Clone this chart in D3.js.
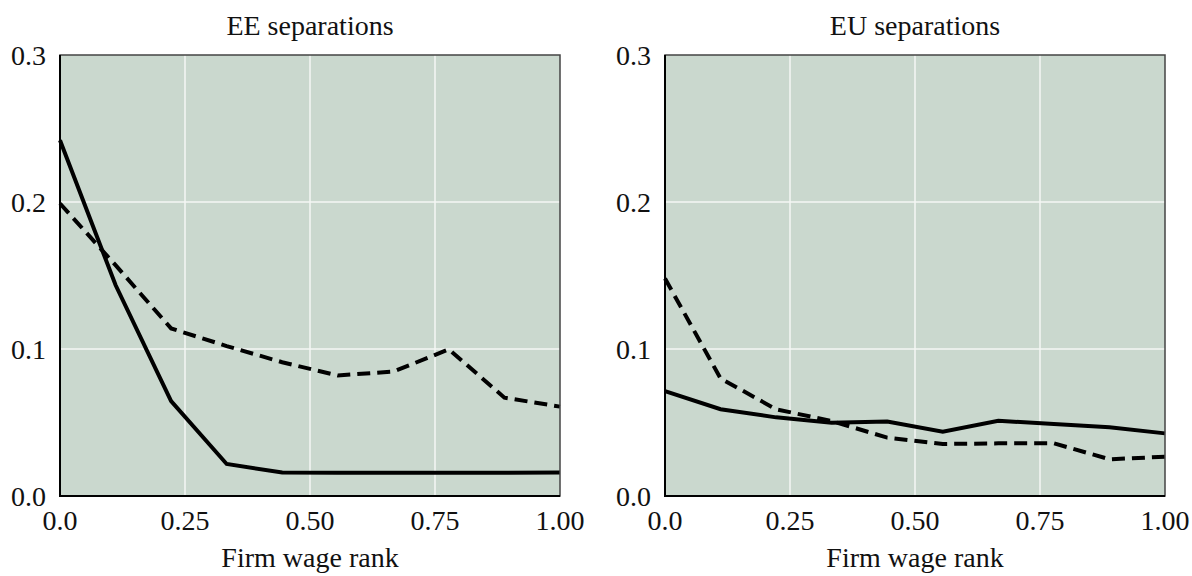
<!DOCTYPE html>
<html>
<head>
<meta charset="utf-8">
<script src="https://cdn.jsdelivr.net/npm/d3@7"></script>
<style>
  body { margin: 0; background: #fff; }
  text { font-family: "Liberation Serif", "DejaVu Serif", serif; fill: #111; }
</style>
</head>
<body>
<svg id="chart" width="1192" height="576"></svg>
<script>
var ranks = [0, 1/9, 2/9, 3/9, 4/9, 5/9, 6/9, 7/9, 8/9, 1];
var eeSolid = [0.242, 0.1435, 0.0646, 0.0218, 0.0160, 0.0158, 0.0158, 0.0158, 0.0158, 0.0160];
var eeDashed = [0.199, 0.157, 0.114, 0.102, 0.091, 0.082, 0.0846, 0.0998, 0.0669, 0.0608];
var euSolid = [0.0714, 0.059, 0.0535, 0.0499, 0.0506, 0.0438, 0.0512, 0.049, 0.0467, 0.0426];
var euDashed = [0.148, 0.080, 0.059, 0.051, 0.0397, 0.0354, 0.0358, 0.0358, 0.025, 0.0267];
var xTicks = [0, 0.25, 0.5, 0.75, 1];
var xTickLabels = ["0.0", "0.25", "0.50", "0.75", "1.00"];
var yTicks = [0, 0.1, 0.2, 0.3];
var yTickLabels = ["0.0", "0.1", "0.2", "0.3"];
var panelTitles = ["EE separations", "EU separations"];

var panels = [
  { title: panelTitles[0], left: 60, solid: eeSolid, dashed: eeDashed },
  { title: panelTitles[1], left: 665, solid: euSolid, dashed: euDashed }
];

var props = {
  top: 55,
  bottom: 496,
  width: 500,
  bg: "#cad8ce",
  fontSize: 28,
  lineWidth: 4
};

var svg = d3.select("#chart");

panels.forEach(function(p) {
  var x = d3.scaleLinear().domain([0, 1]).range([p.left, p.left + props.width]);
  var y = d3.scaleLinear().domain([0, 0.3]).range([props.bottom, props.top]);
  var g = svg.append("g");

  g.append("rect")
    .attr("x", x(0)).attr("y", y(0.3))
    .attr("width", props.width).attr("height", props.bottom - props.top)
    .attr("fill", props.bg);

  // grid
  g.selectAll(".vgrid").data(xTicks.slice(1, -1)).enter().append("line")
    .attr("x1", d => x(d)).attr("x2", d => x(d))
    .attr("y1", props.top).attr("y2", props.bottom)
    .attr("stroke", "#f4f7f5").attr("stroke-width", 1.5);
  g.selectAll(".hgrid").data(yTicks.slice(1, -1)).enter().append("line")
    .attr("x1", x(0)).attr("x2", x(1))
    .attr("y1", d => y(d)).attr("y2", d => y(d))
    .attr("stroke", "#f4f7f5").attr("stroke-width", 1.5);

  var line = d3.line().x((d, i) => x(ranks[i])).y(d => y(d));

  g.append("path").datum(p.dashed)
    .attr("d", line).attr("fill", "none")
    .attr("stroke", "#000").attr("stroke-width", props.lineWidth)
    .attr("stroke-dasharray", "13,7");
  g.append("path").datum(p.solid)
    .attr("d", line).attr("fill", "none")
    .attr("stroke", "#000").attr("stroke-width", props.lineWidth);

  // frame
  g.append("rect")
    .attr("x", x(0)).attr("y", y(0.3))
    .attr("width", props.width).attr("height", props.bottom - props.top)
    .attr("fill", "none").attr("stroke", "#444").attr("stroke-width", 1.5);
  g.append("path")
    .attr("d", `M ${x(0)} ${props.top} L ${x(0)} ${props.bottom} L ${x(1)} ${props.bottom}`)
    .attr("fill", "none").attr("stroke", "#000").attr("stroke-width", 2);

  // tick labels
  g.selectAll(".xt").data(xTicks).enter().append("text")
    .attr("x", d => x(d)).attr("y", props.bottom + 34)
    .attr("text-anchor", "middle").attr("font-size", props.fontSize)
    .text((d, i) => xTickLabels[i]);
  g.selectAll(".yt").data(yTicks).enter().append("text")
    .attr("x", x(0) - 14).attr("y", d => y(d) + 10)
    .attr("text-anchor", "end").attr("font-size", props.fontSize)
    .text((d, i) => yTickLabels[i]);

  g.append("text")
    .attr("x", x(0.5)).attr("y", 35)
    .attr("text-anchor", "middle").attr("font-size", props.fontSize)
    .text(p.title);
  g.append("text")
    .attr("x", x(0.5)).attr("y", 567)
    .attr("text-anchor", "middle").attr("font-size", props.fontSize)
    .text("Firm wage rank");
});
</script>
</body>
</html>
